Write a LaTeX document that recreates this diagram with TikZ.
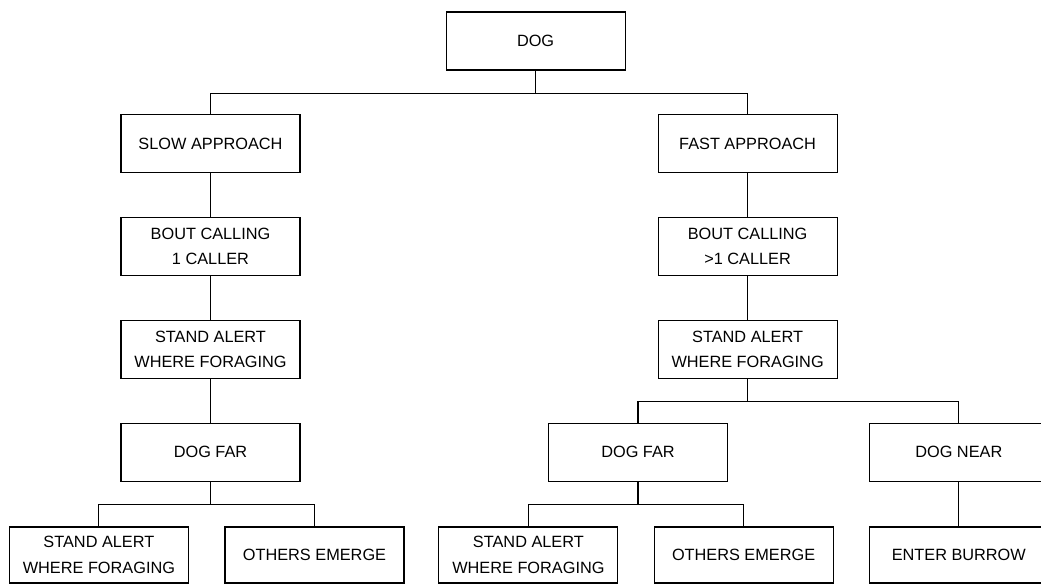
\documentclass[tikz,border=0pt]{standalone}
\usepackage{fontspec}
\setmainfont{Liberation Sans}
\usetikzlibrary{calc}

\begin{document}
\begin{tikzpicture}[
  node distance=2.57cm
]

  \tikzstyle{box}=[draw,rectangle,line width=0.8pt,minimum width=4.475cm,minimum height=1.45cm,inner sep=1mm,align=center,font=\fontsize{11.6}{18}\selectfont]
  \tikzstyle{leafbox}=[box,minimum height=1.4cm]
  \tikzstyle{link}=[draw,line width=0.8pt]

  \useasboundingbox (0,0) rectangle (26.025,-14.6);

  % nodes
  \node[box] (dog) at (13.39,-1.025) {DOG};

  \node[box] (slow) [below of=dog, xshift=-8.1275cm] {SLOW APPROACH};
  \node[box] (bout1) [below of=slow] {BOUT CALLING\\1 CALLER};
  \node[box] (alert1) [below of=bout1] {STAND ALERT\\WHERE FORAGING};
  \node[box] (far1) [below of=alert1] {DOG FAR};

  \node[box] (fast) [below of=dog, xshift=5.3cm] {FAST APPROACH};
  \node[box] (bout2) [below of=fast] {BOUT CALLING\\>1 CALLER};
  \node[box] (alert2) [below of=bout2] {STAND ALERT\\WHERE FORAGING};
  \node[box] (far2) [below of=alert2, xshift=-2.74cm] {DOG FAR};
  \node[box] (near) [below of=alert2, xshift=5.28cm] {DOG NEAR};

  \node[leafbox] (alert3) [below of=far1, xshift=-2.79cm] {STAND ALERT\\WHERE FORAGING};
  \node[leafbox] (emerge1) [below of=far1, xshift=2.6cm] {OTHERS EMERGE};
  \node[leafbox] (alert4) [below of=far2, xshift=-2.74cm] {STAND ALERT\\WHERE FORAGING};
  \node[leafbox] (emerge2) [below of=far2, xshift=2.64cm] {OTHERS EMERGE};
  \node[leafbox] (burrow) [below of=near] {ENTER BURROW};

  % links
  \draw[link] (dog.south) -- ++(0,-0.5625) -| (slow.north);
  \draw[link] (dog.south) -- ++(0,-0.5625) -| (fast.north);

  \draw[link] (slow) -- (bout1);
  \draw[link] (bout1) -- (alert1);
  \draw[link] (alert1) -- (far1);

  \draw[link] (fast) -- (bout2);
  \draw[link] (bout2) -- (alert2);
  \draw[link] (alert2.south) -- ++(0,-0.5625) -| (far2.north);
  \draw[link] (alert2.south) -- ++(0,-0.5625) -| (near.north);

  \draw[link] (far1.south) -- ++(0,-0.5625) -| (alert3.north);
  \draw[link] (far1.south) -- ++(0,-0.5625) -| (emerge1.north);
  \draw[link] (far2.south) -- ++(0,-0.5625) -| (alert4.north);
  \draw[link] (far2.south) -- ++(0,-0.5625) -| (emerge2.north);
  \draw[link] (near) -- (burrow);

\end{tikzpicture}
\end{document}
